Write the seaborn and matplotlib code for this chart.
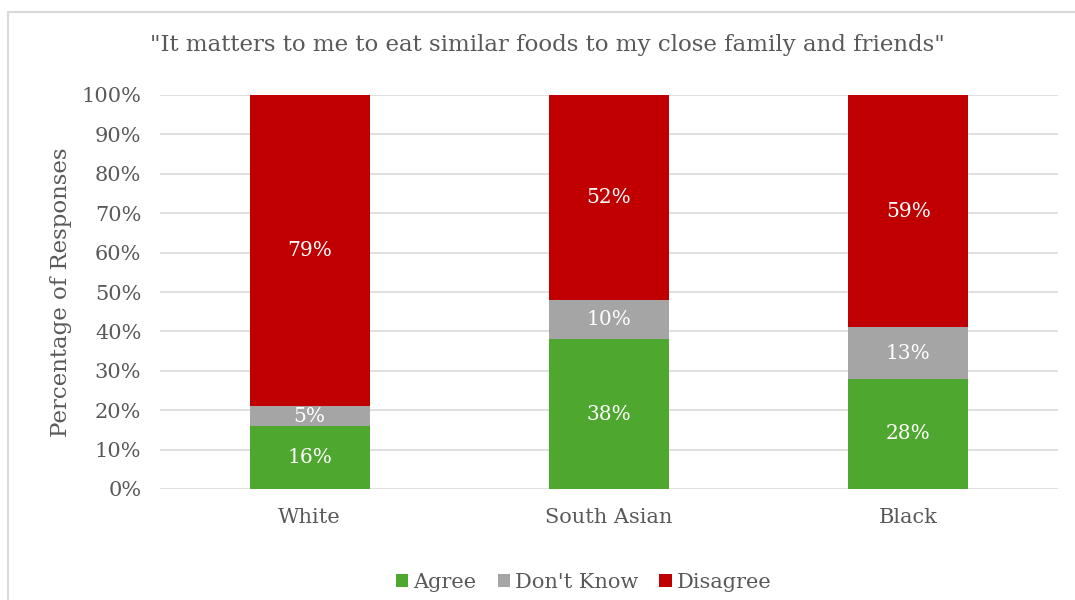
import numpy as np
import pandas as pd
import matplotlib
matplotlib.use("Agg")
import matplotlib.pyplot as plt
import seaborn as sns
from matplotlib.patches import Rectangle
from matplotlib.ticker import PercentFormatter

groups = ["White", "South Asian", "Black"]
responses = ["Agree", "Don't Know", "Disagree"]
agree = [16, 38, 28]
dont_know = [5, 10, 13]
disagree = [79, 52, 59]
colors = ["#4EA72E", "#A5A5A5", "#C00000"]

title = "\"It matters to me to eat similar foods to my close family and friends\""
ylabel = "Percentage of Responses"
text_color = "#595959"

sns.set_theme(style="white")
plt.rcParams["font.family"] = ["DejaVu Serif"]

df = pd.DataFrame({"group": groups, "Agree": agree,
                   "Don't Know": dont_know, "Disagree": disagree})

fig = plt.figure(figsize=(10.75, 6), dpi=100)
ax = fig.add_axes([160 / 1075, 1 - 489 / 600, 898 / 1075, 394 / 600])

bottom = np.zeros(len(groups))
for resp, col in zip(responses, colors):
    vals = df[resp].to_numpy(dtype=float)
    sns.barplot(data=df, x="group", y=resp, color=col, width=0.4,
                bottom=bottom, ax=ax, saturation=1, label=resp, zorder=3,
                edgecolor=col, linewidth=0)
    for i, v in enumerate(vals):
        ax.text(i, bottom[i] + v / 2, f"{v:.0f}%", ha="center", va="center",
                color="white", fontsize=14.5, zorder=4)
    bottom += vals

ax.set_ylim(0, 100)
ax.set_yticks(np.arange(0, 101, 10))
ax.yaxis.set_major_formatter(PercentFormatter(decimals=0))
ax.grid(axis="y", color="#D9D9D9", linewidth=1.2, zorder=0)
ax.set_axisbelow(True)
for s in ax.spines.values():
    s.set_visible(False)
ax.tick_params(axis="both", length=0, labelsize=15, colors=text_color)
ax.tick_params(axis="y", pad=13.5)
ax.tick_params(axis="x", pad=14)
ax.set_xlabel("")
ax.set_ylabel(ylabel, fontsize=16.5, color=text_color, labelpad=7)

ax.legend(loc="upper center", bbox_to_anchor=(0.472, -0.165), ncol=3, frameon=False,
          fontsize=15, labelcolor=text_color, handlelength=0.6, handleheight=0.6,
          handletextpad=0.25, columnspacing=1.0)

fig.text(547 / 1075, 1 - 45 / 600, title, ha="center", va="center",
         fontsize=16.5, color=text_color)

# light outer frame around the chart area
fig.patches.append(Rectangle((8 / 1075, -0.02), 1.1, 1 - 12 / 600 + 0.02,
                             transform=fig.transFigure, fill=False,
                             edgecolor="#D9D9D9", linewidth=1.5))

fig.savefig("out.png", dpi=100)
